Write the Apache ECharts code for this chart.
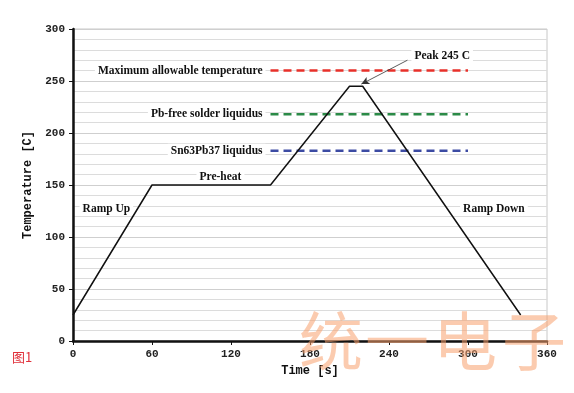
<!DOCTYPE html>
<html><head><meta charset="utf-8">
<script src="https://cdn.jsdelivr.net/npm/echarts@6/dist/echarts.min.js"></script>
<style>html,body{margin:0;padding:0;background:#fff}#c{width:574px;height:393px}</style>
</head><body><div id="c"></div>
<script>
// profile (time s, temp C)
const profileTime = [0, 60, 150, 210, 220, 340];
const profileTemp = [25, 150, 150, 245, 245, 25];
// reference lines
const refNames = ['Maximum allowable temperature', 'Pb-free solder liquidus', 'Sn63Pb37 liquidus'];
const refTemps = [260, 218, 183];
const refStart = 150, refEnd = 300;
const refColors = ['#e8302a', '#2b8a47', '#3c4ba3'];
// phase annotations
const noteTexts = ['Ramp Up', 'Pre-heat', 'Ramp Down'];
const noteX = [5, 112, 294];
const noteY = [127, 158, 127];
// peak annotation
const peakText = 'Peak 245 C';
const peakFrom = [254, 270];
const peakTo = [219, 247];
const xTicks = [0, 60, 120, 180, 240, 300, 360];
const yTicks = [0, 50, 100, 150, 200, 250, 300];
const watermark = ['统', '一', '电', '子'];

const chart = echarts.init(document.getElementById('c'));
const serifBold = {fontFamily: 'Liberation Serif', fontWeight: 'bold', fontSize: 11.5, color: '#111'};
const series = [];
series.push({
  type: 'line', data: profileTime.map((t, i) => [t, profileTemp[i]]),
  symbol: 'none', lineStyle: {color: '#111', width: 1.5}, z: 5,
  markLine: {
    silent: true, symbolSize: [6, 8],
    lineStyle: {color: '#333', width: 0.8, type: 'solid'},
    label: {show: false},
    data: [[{coord: peakFrom, symbol: 'none'}, {coord: peakTo, symbol: 'arrow'}]]
  }
});
refTemps.forEach((v, i) => {
  series.push({
    type: 'line', data: [[refStart, v], [refEnd, v]], symbol: 'none',
    lineStyle: {color: refColors[i], width: 2.5, type: [8, 5]},
    label: {show: false},
    markPoint: {
      symbol: 'circle', symbolSize: 0,
      data: [{coord: [refStart, v], value: refNames[i]}],
      label: Object.assign({show: true, position: 'left', distance: 5, formatter: refNames[i],
        backgroundColor: '#fff', padding: [1, 3]}, serifBold)
    }
  });
});
series.push({
  type: 'scatter', symbolSize: 0, silent: true, itemStyle: {opacity: 1},
  data: noteTexts.map((t, i) => ({value: [noteX[i], noteY[i]], name: t})),
  label: Object.assign({show: true, position: 'inside', formatter: p => p.name,
    align: 'left', backgroundColor: '#fff', padding: [1, 3]}, serifBold)
});
series[series.length - 1].data[1].label = {align: 'center'};
series.push({
  type: 'scatter', symbolSize: 0, silent: true, itemStyle: {opacity: 1},
  data: [{value: [peakFrom[0] + 3, peakFrom[1] + 4], name: peakText}],
  label: Object.assign({show: true, position: 'inside', formatter: p => p.name,
    align: 'left', backgroundColor: '#fff', padding: [1, 3]}, serifBold)
});

const axisFont = {fontFamily: 'Liberation Mono', fontWeight: 'bold', fontSize: 11, color: '#222'};
const wmLeft = [299, 365, 433, 502];
chart.setOption({
  animation: false,
  grid: {left: 73, right: 27, top: 29, bottom: 52, show: true, borderColor: '#c8c8c8', borderWidth: 1},
  xAxis: {
    type: 'value', min: xTicks[0], max: xTicks[xTicks.length - 1], interval: 60,
    name: 'Time [s]', nameLocation: 'middle', nameGap: 24,
    nameTextStyle: {fontFamily: 'Liberation Mono', fontWeight: 'bold', fontSize: 12, color: '#111'},
    axisLine: {lineStyle: {color: '#111', width: 2.5}},
    axisTick: {show: true, length: 4, lineStyle: {color: '#111'}},
    axisLabel: Object.assign({margin: 8}, axisFont),
    splitLine: {show: false}
  },
  yAxis: {
    type: 'value', min: yTicks[0], max: yTicks[yTicks.length - 1], interval: 50,
    name: 'Temperature [C]', nameLocation: 'middle', nameGap: 38,
    nameTextStyle: {fontFamily: 'Liberation Mono', fontWeight: 'bold', fontSize: 12, color: '#111'},
    axisLine: {show: true, lineStyle: {color: '#111', width: 2.5}},
    axisTick: {show: true, length: 4, lineStyle: {color: '#111'}},
    axisLabel: Object.assign({margin: 8}, axisFont),
    splitLine: {show: true, lineStyle: {color: '#cfcfcf', width: 1}},
    minorTick: {show: false, splitNumber: 5},
    minorSplitLine: {show: true, lineStyle: {color: '#dcdcdc', width: 1}}
  },
  series: series,
  graphic: [
    {type: 'text', left: 12, top: 351, style: {text: '图1', fill: '#e0303a', font: '13px "Noto Sans CJK SC"'}}
  ].concat(watermark.map((ch, i) => ({
    type: 'text', left: wmLeft[i], top: 309, z: 100, silent: true,
    style: {text: ch, fill: 'rgba(248,160,110,0.55)', font: '64px "Noto Sans CJK SC"'}
  })))
});
</script></body></html>
